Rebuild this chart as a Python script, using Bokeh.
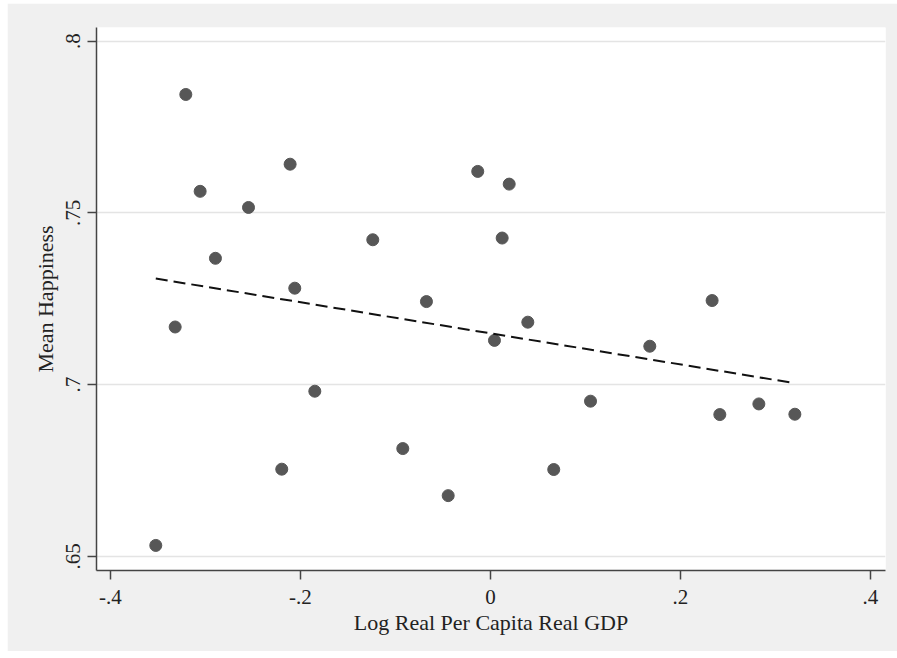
from bokeh.plotting import figure
from bokeh.models import Range1d, FixedTicker
from bokeh.embed import file_html
from bokeh.resources import INLINE

# Data
log_gdp = [-0.3523, -0.3319, -0.3207, -0.3056, -0.2895, -0.2547, -0.2197, -0.2109,
           -0.2060, -0.1849, -0.1239, -0.0923, -0.0674, -0.0445, -0.0134, 0.0042,
           0.0123, 0.0197, 0.0393, 0.0666, 0.1053, 0.1677, 0.2333, 0.2414,
           0.2825, 0.3204]
mean_happiness = [0.6532, 0.7168, 0.7845, 0.7563, 0.7368, 0.7516, 0.6754, 0.7642,
                  0.7281, 0.6981, 0.7422, 0.6814, 0.7242, 0.6677, 0.7621, 0.7129,
                  0.7427, 0.7584, 0.7182, 0.6753, 0.6952, 0.7112, 0.7245, 0.6913,
                  0.6944, 0.6914]
fit_x = [-0.3523, 0.3147]
fit_y = [0.7309, 0.7007]

x_ticks = [-0.4, -0.2, 0, 0.2, 0.4]
x_tick_labels = ["-.4", "-.2", "0", ".2", ".4"]
y_ticks = [0.65, 0.7, 0.75, 0.8]
y_tick_labels = [".65", ".7", ".75", ".8"]

FONT = "Liberation Serif"

p = figure(width=890, height=648, output_backend="svg", toolbar_location=None,
           x_range=Range1d(-0.4147, 0.4158), y_range=Range1d(0.6459, 0.804),
           min_border_left=89, min_border_right=12, min_border_top=24,
           min_border_bottom=81)
p.margin = (3, 0, 7, 7)
p.background_fill_color = "white"
p.border_fill_color = "#f0f0f0"
p.outline_line_color = None

p.xgrid.grid_line_color = None
p.ygrid.grid_line_color = "#e4e4e4"
p.ygrid.grid_line_width = 1.5

p.xaxis.ticker = FixedTicker(ticks=x_ticks)
p.yaxis.ticker = FixedTicker(ticks=y_ticks)
p.xaxis.major_label_overrides = dict(zip(x_ticks, x_tick_labels))
p.yaxis.major_label_overrides = dict(zip(y_ticks, y_tick_labels))
p.yaxis.major_label_orientation = "vertical"

for ax in (p.xaxis, p.yaxis):
    ax.axis_line_color = "#444444"
    ax.axis_line_width = 1.5
    ax.major_tick_line_color = "#444444"
    ax.major_tick_line_width = 1.5
    ax.major_tick_out = 9
    ax.major_tick_in = 0
    ax.minor_tick_line_color = None
    ax.major_label_text_font = FONT
    ax.major_label_text_font_size = "21px"
    ax.major_label_text_color = "#222222"
    ax.axis_label_text_font = FONT
    ax.axis_label_text_font_size = "22px"
    ax.axis_label_text_font_style = "normal"
    ax.axis_label_text_color = "#222222"

p.xaxis.axis_label = "Log Real Per Capita Real GDP"
p.yaxis.axis_label = "Mean Happiness"
p.xaxis.major_label_standoff = 10
p.yaxis.major_label_standoff = 7
p.xaxis.axis_label_standoff = 3
p.yaxis.axis_label_standoff = 6

p.scatter(log_gdp, mean_happiness, size=12, color="#575757", line_color="#575757")
p.line(fit_x, fit_y, line_color="#111111", line_width=2, line_dash="12 6")

open("out.html", "w").write(file_html(p, INLINE))
